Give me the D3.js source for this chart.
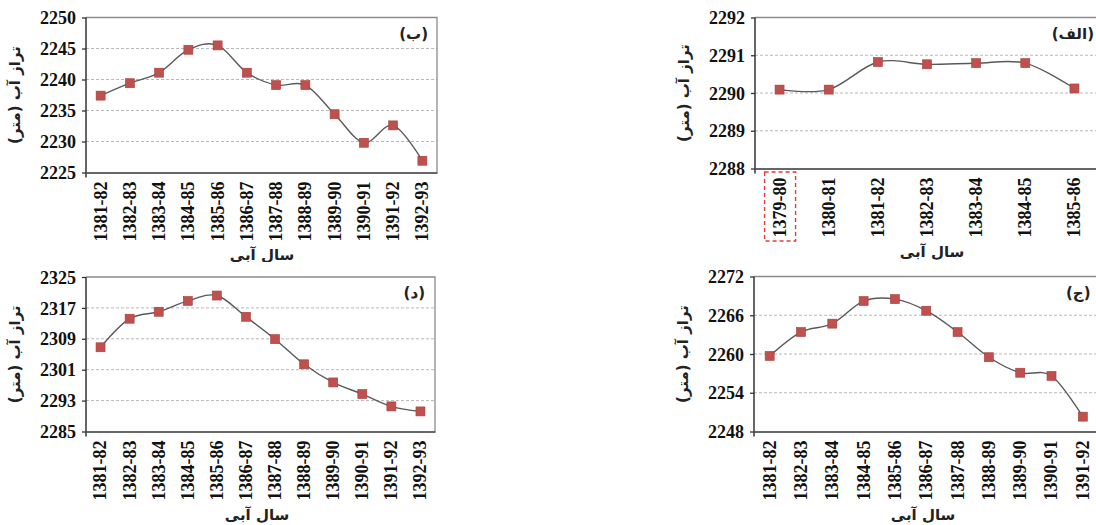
<!DOCTYPE html>
<html>
<head>
<meta charset="utf-8">
<script src="https://cdn.jsdelivr.net/npm/d3@7"></script>
<style>
  body { margin: 0; background: #fff; }
  svg { display: block; }
  .fa { font-family: "DejaVu Sans", sans-serif; font-weight: bold; fill: #222; }
</style>
</head>
<body>
<svg id="chart" width="1096" height="525"></svg>
<script>
// Water years (hydrological years)
const yearsAlef = ["1379-80", "1380-81", "1381-82", "1382-83", "1383-84", "1384-85", "1385-86"];
const years12 = ["1381-82", "1382-83", "1383-84", "1384-85", "1385-86", "1386-87",
                 "1387-88", "1388-89", "1389-90", "1390-91", "1391-92", "1392-93"];
const years11 = years12.slice(0, 11);

// Water level (m) per panel
const levelAlef = [2290.09, 2290.09, 2290.82, 2290.76, 2290.79, 2290.79, 2290.12];
const levelBe = [2237.4, 2239.4, 2241.1, 2244.8, 2245.5, 2241.1, 2239.1, 2239.1, 2234.4, 2229.8, 2232.6, 2226.9];
const levelJim = [2259.7, 2263.4, 2264.7, 2268.2, 2268.5, 2266.7, 2263.4, 2259.5, 2257.1, 2256.6, 2250.3];
const levelDal = [2306.8, 2314.2, 2316.0, 2318.8, 2320.2, 2314.7, 2308.9, 2302.4, 2297.7, 2294.7, 2291.5, 2290.2];

// Y tick values
const ticksAlef = [2288, 2289, 2290, 2291, 2292];
const ticksBe = [2225, 2230, 2235, 2240, 2245, 2250];
const ticksJim = [2248, 2254, 2260, 2266, 2272];
const ticksDal = [2285, 2293, 2301, 2309, 2317, 2325];

const yTitle = "تراز آب (متر)";
const xTitle = "سال آبی";

const colors = {
    line: "#595959",
    marker: "#c0504d",
    grid: "#b8b8b8",
    frame: "#8c8c8c",
    axis: "#333",
};
const serif = '"Liberation Serif", "Times New Roman", serif';

const svg = d3.select("#chart");
svg.append("rect").attr("width", 1096).attr("height", 525).attr("fill", "#fff");

function styleTickText(sel) {
    sel.attr("font-family", serif)
        .attr("font-weight", "bold")
        .attr("font-size", 18)
        .attr("fill", "#111");
}

function drawPanel(p) {
    const g = svg.append("g");
    // white backing so the panel covers whatever spills from above
    g.append("rect")
        .attr("x", p.left - 90).attr("y", p.top - 15)
        .attr("width", p.right - p.left + 100).attr("height", p.bottom - p.top + 110)
        .attr("fill", "#fff");

    const x = d3.scaleBand().domain(p.categories).range([p.left, p.right]);
    const y = d3.scaleLinear().domain(d3.extent(p.ticks)).range([p.bottom, p.top]);
    const cx = (d) => x(d) + x.bandwidth() / 2;

    // grid
    g.append("g")
        .selectAll("line")
        .data(p.ticks.slice(1, -1))
        .join("line")
        .attr("x1", p.left).attr("x2", p.right)
        .attr("y1", (d) => y(d)).attr("y2", (d) => y(d))
        .attr("stroke", colors.grid)
        .attr("stroke-width", 1)
        .attr("stroke-dasharray", "3,2");

    // frame top / right
    g.append("path")
        .attr("d", `M${p.left},${p.top} H${p.right} V${p.bottom}`)
        .attr("fill", "none")
        .attr("stroke", colors.frame)
        .attr("stroke-width", 1.3);

    // y axis
    const yAxis = g.append("g")
        .attr("transform", `translate(${p.left},0)`)
        .call(d3.axisLeft(y).tickValues(p.ticks).tickFormat(d3.format("d"))
            .tickSize(4).tickSizeOuter(0).tickPadding(6));
    yAxis.select(".domain").remove();
    yAxis.selectAll(".tick line").attr("stroke", colors.axis).attr("stroke-width", 1.3);
    yAxis.selectAll(".tick text").call(styleTickText).attr("dy", "0.34em");

    g.append("line")
        .attr("x1", p.left).attr("x2", p.left)
        .attr("y1", p.top).attr("y2", p.bottom + 5)
        .attr("stroke", colors.axis).attr("stroke-width", 1.5);

    // x axis
    const xAxis = g.append("g")
        .attr("transform", `translate(0,${p.bottom})`)
        .call(d3.axisBottom(x).tickSize(0).tickSizeOuter(0));
    xAxis.select(".domain").attr("stroke", colors.axis).attr("stroke-width", 1.5);
    xAxis.selectAll(".tick text")
        .call(styleTickText)
        .attr("transform", "rotate(-90)")
        .attr("text-anchor", "end")
        .attr("x", -9).attr("y", 0)
        .attr("dy", "0.33em");

    // line
    const line = d3.line()
        .x((d, i) => cx(p.categories[i]))
        .y((d) => y(d))
        .curve(d3.curveCardinal.tension(0));
    g.append("path")
        .datum(p.values)
        .attr("d", line)
        .attr("fill", "none")
        .attr("stroke", colors.line)
        .attr("stroke-width", 1.4);

    // markers
    const s = 9;
    g.append("g")
        .selectAll("rect")
        .data(p.values)
        .join("rect")
        .attr("x", (d, i) => cx(p.categories[i]) - s / 2)
        .attr("y", (d) => y(d) - s / 2)
        .attr("width", s).attr("height", s)
        .attr("fill", colors.marker)
        .attr("stroke", "#a33f3c")
        .attr("stroke-width", 0.6);

    // panel label
    g.append("text")
        .attr("class", "fa")
        .attr("x", p.right - p.labelInset)
        .attr("y", p.top + 21)
        .attr("text-anchor", "end")
        .attr("font-size", 15)
        .text(p.label);

    // axis titles
    g.append("text")
        .attr("class", "fa")
        .attr("direction", "rtl")
        .attr("text-anchor", "middle")
        .attr("font-size", 15)
        .attr("transform", `translate(${p.left - 66},${(p.top + p.bottom) / 2}) rotate(-90)`)
        .text(yTitle);

    g.append("text")
        .attr("class", "fa")
        .attr("direction", "rtl")
        .attr("text-anchor", "middle")
        .attr("font-size", 15)
        .attr("x", p.titleX)
        .attr("y", p.bottom + p.titleDy)
        .text(xTitle);

    return { g, x, cx };
}

// top-left (ب)
drawPanel({
    categories: years12, values: levelBe, ticks: ticksBe, label: "(ب)",
    left: 86, right: 437, top: 17.5, bottom: 172.5, labelInset: 9, titleX: 262, titleDy: 87,
});

// top-right (الف)
const alef = drawPanel({
    categories: yearsAlef, values: levelAlef, ticks: ticksAlef, label: "(الف)",
    left: 755, right: 1099, top: 17.5, bottom: 168.5, labelInset: 5, titleX: 932, titleDy: 88,
});
// dashed box around the first water year
const bx = alef.cx(yearsAlef[0]);
alef.g.append("rect")
    .attr("x", bx - 15).attr("y", 172)
    .attr("width", 31).attr("height", 69)
    .attr("fill", "none")
    .attr("stroke", "#e03c3c")
    .attr("stroke-width", 1.4)
    .attr("stroke-dasharray", "4,3");

// bottom-left (د)
drawPanel({
    categories: years12, values: levelDal, ticks: ticksDal, label: "(د)",
    left: 86, right: 435, top: 277, bottom: 431.5, labelInset: 10, titleX: 257, titleDy: 88,
});

// bottom-right (ج)
drawPanel({
    categories: years11, values: levelJim, ticks: ticksJim, label: "(ج)",
    left: 754, right: 1098.5, top: 276.5, bottom: 431.5, labelInset: 8, titleX: 923, titleDy: 88,
});
</script>
</body>
</html>
